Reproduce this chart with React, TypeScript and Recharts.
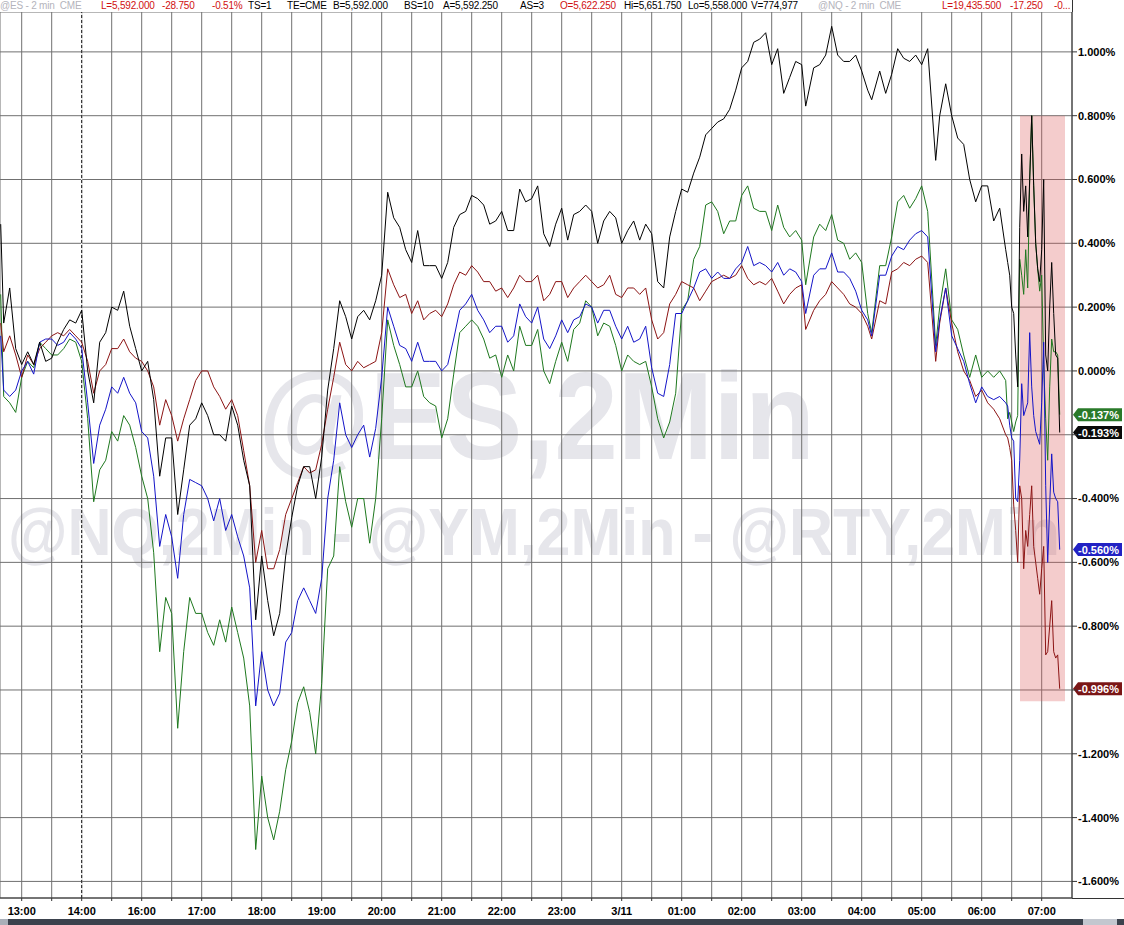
import {
  LineChart,
  Line,
  XAxis,
  YAxis,
  CartesianGrid,
  ReferenceLine,
  ReferenceArea,
} from "recharts";

// session minutes from 13:00 (the 15:00-16:00 break is not on the axis)
const minutes = [
  -21, -18, -12, -6,
  0, 6, 12, 18, 24, 30, 36, 42, 48, 54,
  60, 66, 72, 78, 84, 90, 96, 102, 108, 114,
  120, 126, 132, 138, 144, 150, 156, 162, 168, 174,
  180, 186, 192, 198, 204, 210, 216, 222, 228, 234,
  240, 246, 252, 258, 264, 270, 276, 282, 288, 294,
  300, 306, 312, 318, 324, 330, 336, 342, 348, 354,
  360, 366, 372, 378, 384, 390, 396, 402, 408, 414,
  420, 426, 432, 438, 444, 450, 456, 462, 468, 474,
  480, 486, 492, 498, 504, 510, 516, 522, 528, 534,
  540, 546, 552, 558, 564, 570, 576, 582, 588, 594,
  600, 606, 612, 618, 624, 630, 636, 642, 648, 654,
  660, 666, 672, 678, 684, 690, 696, 702, 708, 714,
  720, 726, 732, 738, 744, 750, 756, 762, 768, 774,
  780, 784, 792, 798, 804, 810, 816, 822, 828, 834,
  840, 846, 850, 858, 864, 870, 876, 882, 888, 894,
  900, 906, 914, 918, 924, 930, 936, 942, 948, 954,
  960, 966, 972, 978, 984,
  986, 988, 990, 992, 994, 996, 998, 1000, 1002, 1004,
  1006, 1008, 1010, 1012, 1014, 1016, 1018, 1020, 1022, 1024,
  1026, 1028, 1030, 1032, 1034, 1036, 1038,
];

// % change, black line
const esPct = [
  0.46,
  0.15, 0.26, 0.07, 0.02, 0.06, 0.02, 0.09, 0.03, 0.04, 0.09,
  0.13, 0.16, 0.15, 0.19, 0.0, -0.1, 0.09, 0.12, 0.2, 0.19,
  0.25, 0.14, 0.07, 0.0, 0.03, -0.09, -0.33, -0.21, -0.21, -0.45,
  -0.31, -0.17, -0.15, -0.1, -0.14, -0.2, -0.2, -0.22, -0.11, -0.17,
  -0.28, -0.36, -0.78, -0.58, -0.72, -0.83, -0.76, -0.58, -0.46, -0.36,
  -0.3, -0.3, -0.4, -0.27, -0.06, 0.07, 0.22, 0.17, 0.1, 0.17,
  0.19, 0.16, 0.22, 0.3, 0.56, 0.48, 0.45, 0.38, 0.34, 0.44,
  0.33, 0.33, 0.33, 0.29, 0.34, 0.45, 0.49, 0.5, 0.55, 0.54,
  0.52, 0.46, 0.47, 0.5, 0.44, 0.44, 0.57, 0.53, 0.54, 0.58,
  0.43, 0.39, 0.46, 0.51, 0.41, 0.49, 0.5, 0.52, 0.5, 0.4,
  0.47, 0.5, 0.48, 0.4, 0.44, 0.47, 0.41, 0.46, 0.43, 0.28,
  0.26, 0.42, 0.5, 0.57, 0.56, 0.62, 0.67, 0.74, 0.76, 0.78,
  0.79, 0.82, 0.88, 0.95, 0.97, 1.03, 1.04, 1.06, 0.96, 1.01,
  0.87, 0.92, 0.97, 0.96, 0.83, 0.95, 0.96, 0.99, 1.08, 0.99,
  0.97, 0.97, 0.99, 0.94, 0.88, 0.85, 0.94, 0.87, 0.93, 1.01,
  0.98, 0.97, 0.99, 0.96, 1.01, 0.66, 0.8, 0.9, 0.8, 0.73,
  0.71, 0.6, 0.53, 0.58, 0.58, 0.47, 0.51, 0.38,
  0.34, 0.3, 0.2, 0.18, 0.05, -0.05, 0.45, 0.68, 0.5, 0.58,
  0.42, 0.6, 0.8, 0.58, 0.4, 0.32, 0.28, 0.38, 0.6, 0.05,
  0.0, 0.2, 0.34, 0.18, 0.05, 0.04, -0.193,
];

// % change, dark red line
const rtyPct = [
  0.15,
  0.06, 0.11, 0.05, -0.02, 0.05, 0.02, 0.07, 0.09, 0.11, 0.12,
  0.11, 0.13, 0.11, 0.09, 0.03, -0.07, 0.0, 0.02, 0.07, 0.07,
  0.1, 0.06, 0.04, 0.03, 0.0, -0.05, -0.17, -0.09, -0.14, -0.22,
  -0.15, -0.09, -0.03, 0.0, 0.0, -0.05, -0.08, -0.12, -0.09, -0.14,
  -0.25, -0.36, -0.6, -0.5, -0.62, -0.62, -0.56, -0.45, -0.4, -0.35,
  -0.3, -0.32, -0.31, -0.23, -0.12, -0.02, 0.09, 0.02, 0.0, 0.03,
  0.01, 0.02, 0.03, 0.12, 0.32, 0.27, 0.23, 0.24, 0.18, 0.22,
  0.16, 0.18, 0.19, 0.17, 0.21, 0.27, 0.31, 0.3, 0.33, 0.31,
  0.28, 0.28, 0.25, 0.26, 0.23, 0.26, 0.3, 0.28, 0.28, 0.3,
  0.22, 0.24, 0.28, 0.28, 0.23, 0.26, 0.28, 0.3, 0.28, 0.26,
  0.27, 0.3, 0.24, 0.23, 0.26, 0.26, 0.24, 0.26, 0.16, 0.1,
  0.12, 0.21, 0.24, 0.28, 0.27, 0.26, 0.22, 0.25, 0.28, 0.29,
  0.3, 0.29, 0.3, 0.33, 0.29, 0.27, 0.28, 0.27, 0.29, 0.25,
  0.21, 0.24, 0.26, 0.27, 0.13, 0.19, 0.22, 0.24, 0.28, 0.26,
  0.24, 0.21, 0.2, 0.18, 0.14, 0.1, 0.22, 0.21, 0.31, 0.32,
  0.34, 0.33, 0.35, 0.36, 0.34, 0.03, 0.15, 0.26, 0.15, 0.06,
  0.0, -0.03, -0.08, -0.06, -0.1, -0.12, -0.15, -0.2,
  -0.21, -0.24, -0.28, -0.42, -0.5, -0.6, -0.36, -0.4, -0.62, -0.5,
  -0.55, -0.45, -0.36, -0.55, -0.6, -0.65, -0.7, -0.62, -0.55, -0.89,
  -0.88, -0.8, -0.72, -0.88, -0.9, -0.89, -0.996,
];

// % change, blue line
const nqPct = [
  0.11,
  -0.06, -0.08, -0.06, 0.0, 0.03, -0.01, 0.09, 0.1, 0.1, 0.08,
  0.09, 0.12, 0.1, 0.07, -0.1, -0.29, -0.17, -0.12, -0.05, -0.07,
  -0.02, -0.07, -0.1, -0.19, -0.21, -0.33, -0.55, -0.45, -0.52, -0.65,
  -0.45, -0.34, -0.35, -0.36, -0.4, -0.47, -0.4, -0.5, -0.45, -0.52,
  -0.58, -0.68, -1.05, -0.88, -1.0, -1.05, -1.01, -0.85, -0.82, -0.72,
  -0.68, -0.72, -0.76, -0.65, -0.4, -0.28, -0.1, -0.2, -0.24, -0.2,
  -0.17, -0.27, -0.18, -0.02, 0.2, 0.14, 0.08, 0.07, 0.03, 0.09,
  0.03, 0.03, 0.03, 0.0, 0.02, 0.1, 0.19, 0.21, 0.24, 0.19,
  0.16, 0.12, 0.14, 0.14, 0.09, 0.11, 0.21, 0.17, 0.15, 0.2,
  0.1, 0.07, 0.11, 0.16, 0.12, 0.16, 0.17, 0.21, 0.2, 0.15,
  0.19, 0.19, 0.14, 0.1, 0.14, 0.09, 0.1, 0.14, 0.01, -0.07,
  -0.08, 0.02, 0.18, 0.18, 0.22, 0.26, 0.31, 0.32, 0.29, 0.31,
  0.29, 0.29, 0.32, 0.34, 0.39, 0.33, 0.34, 0.33, 0.31, 0.34,
  0.3, 0.32, 0.31, 0.28, 0.18, 0.3, 0.32, 0.32, 0.37, 0.31,
  0.31, 0.29, 0.25, 0.19, 0.16, 0.11, 0.3, 0.3, 0.36, 0.39,
  0.38, 0.41, 0.43, 0.44, 0.42, 0.06, 0.16, 0.26, 0.11, 0.07,
  0.03, -0.04, -0.1, -0.05, -0.08, -0.09, -0.08, -0.1,
  -0.11, -0.17, -0.21, -0.22, -0.4, -0.41, -0.28, -0.04, -0.14, -0.12,
  -0.1, 0.12, -0.05, -0.14, -0.19, -0.21, -0.23, -0.1, 0.09, -0.36,
  -0.6, -0.42, -0.26, -0.38, -0.4, -0.41, -0.56,
];

// % change, green line
const ymPct = [
  0.24,
  -0.08, -0.1, -0.13, -0.02, 0.03, 0.01, 0.09, 0.07, 0.05, 0.05,
  0.07, 0.1, 0.09, 0.03, -0.15, -0.41, -0.31, -0.28, -0.19, -0.22,
  -0.14, -0.17, -0.24, -0.33, -0.4, -0.57, -0.88, -0.71, -0.76, -1.12,
  -0.88, -0.71, -0.76, -0.76, -0.82, -0.86, -0.78, -0.85, -0.74, -0.82,
  -0.9, -1.05, -1.5, -1.27, -1.4, -1.47, -1.38, -1.25, -1.16, -1.04,
  -0.99, -1.07, -1.2, -0.98, -0.62, -0.58, -0.3, -0.41, -0.49, -0.4,
  -0.4, -0.54, -0.4, -0.15, 0.16, 0.08, 0.02, -0.05, -0.05, 0.0,
  -0.08, -0.1, -0.11, -0.21, -0.15, -0.01, 0.12, 0.14, 0.16, 0.14,
  0.1, 0.04, 0.05, -0.02, 0.05, 0.0, 0.14, 0.08, 0.08, 0.13,
  0.0, -0.04, 0.03, 0.09, 0.03, 0.13, 0.15, 0.22, 0.2, 0.11,
  0.15, 0.14, 0.08, 0.0, 0.05, 0.03, 0.02, 0.03, -0.05, -0.15,
  -0.21, -0.16, -0.07, 0.19, 0.22, 0.35, 0.39, 0.52, 0.53, 0.5,
  0.43, 0.47, 0.47, 0.55, 0.58, 0.51, 0.5, 0.5, 0.44, 0.52,
  0.45, 0.42, 0.44, 0.41, 0.27, 0.42, 0.46, 0.44, 0.49, 0.41,
  0.4, 0.35, 0.37, 0.34, 0.18, 0.12, 0.33, 0.33, 0.42, 0.53,
  0.55, 0.51, 0.54, 0.58, 0.5, 0.08, 0.2, 0.32, 0.16, 0.13,
  0.05, -0.02, 0.05, -0.02, 0.0, -0.02, 0.0, -0.03,
  -0.15, -0.13, -0.16, -0.19, -0.16, -0.14, 0.35, 0.3, 0.24, 0.38,
  0.26, 0.6, 0.8, 0.58, 0.4, 0.32, 0.25, 0.3, 0.02, -0.15,
  -0.28, -0.05, 0.1, 0.06, 0.06, 0.05, -0.137,
];

const gridMinutes = [
  0, 30, 60, 90, 120, 150, 180, 210, 240, 270, 300, 330, 360, 390, 420, 450, 480, 510,
  540, 570, 600, 630, 660, 690, 720, 750, 780, 810, 840, 870, 900, 930, 960, 990, 1020,
];
const labelMinutes = [0, 60, 120, 180, 240, 300, 360, 420, 480, 540, 600, 660, 720, 780, 840, 900, 960, 1020];
const labelTexts = [
  "13:00", "14:00", "16:00", "17:00", "18:00", "19:00", "20:00", "21:00", "22:00",
  "23:00", "3/11", "01:00", "02:00", "03:00", "04:00", "05:00", "06:00", "07:00",
];
const pctTicks = [-1.6, -1.4, -1.2, -1.0, -0.8, -0.6, -0.4, -0.2, 0, 0.2, 0.4, 0.6, 0.8, 1.0];

const data = minutes.map((t, i) => ({
  t,
  es: esPct[i],
  nq: nqPct[i],
  ym: ymPct[i],
  rty: rtyPct[i],
}));

const FONT = "Arial, 'Liberation Sans', sans-serif";
const last = (arr: number[]) => arr[arr.length - 1];

const Badge = (props: any) => {
  const { viewBox, text, fill } = props;
  if (!viewBox) return null;
  const x = viewBox.x + viewBox.width;
  const y = viewBox.y;
  return (
    <g>
      <path
        d={`M${x + 1},${y} L${x + 6},${y - 6.5} H${x + 50} V${y + 6.5} H${x + 6} Z`}
        fill={fill}
      />
      <text x={x + 6} y={y + 4} fill="#fff" fontSize={11} fontWeight="bold" fontFamily={FONT}>
        {text}
      </text>
    </g>
  );
};

const badges = [
  { value: last(ymPct), fill: "#2a7a2a" },
  { value: last(esPct), fill: "#0a0a0a" },
  { value: last(nqPct), fill: "#2222c4" },
  { value: last(rtyPct), fill: "#7a1616" },
];

// tick labels that sit under a last-value badge are covered in the original
const coveredByBadge = (v: number) => badges.some((b) => Math.abs(b.value - v) < 0.02);

const Header = () => {
  const parts: [number, string, string][] = [
    [0, "#b4b4bc", "@ES - 2 min  CME"],
    [101, "#d01010", "L=5,592.000"],
    [162, "#d01010", "-28.750"],
    [212, "#d01010", "-0.51%"],
    [248, "#000", "TS=1"],
    [287, "#000", "TE=CME"],
    [333, "#000", "B=5,592.000"],
    [404, "#000", "BS=10"],
    [443, "#000", "A=5,592.250"],
    [520, "#000", "AS=3"],
    [560, "#d01010", "O=5,622.250"],
    [624, "#000", "Hi=5,651.750"],
    [688, "#000", "Lo=5,558.000"],
    [751, "#000", "V=774,977"],
    [818, "#b4b4bc", "@NQ - 2 min  CME"],
    [942, "#d01010", "L=19,435.500"],
    [1010, "#d01010", "-17.250"],
    [1054, "#d01010", "-0..."],
  ];
  return (
    <div style={{ position: "absolute", left: 0, top: 0, width: 1072, height: 12, background: "#fff" }}>
      {parts.map(([x, c, s]) => (
        <span
          key={x}
          style={{
            position: "absolute",
            left: x,
            top: -1,
            color: c,
            fontSize: 10,
            fontFamily: FONT,
            whiteSpace: "pre",
            lineHeight: "13px",
            letterSpacing: "-0.2px",
          }}
        >
          {s}
        </span>
      ))}
    </div>
  );
};

const App = () => {
  return (
    <div style={{ position: "absolute", left: 0, top: 0, width: 1124, height: 925, background: "#fff", overflow: "hidden" }}>
      <svg width={1124} height={925} style={{ position: "absolute", left: 0, top: 0 }}>
        <text x={258} y={459} fontSize={124} fontWeight="bold" fill="#e6e6eb" fontFamily={FONT} textLength={557} lengthAdjust="spacingAndGlyphs">
          @ES,2Min
        </text>
        <text x={8} y={555} fontSize={66} fontWeight="bold" fill="#e6e6eb" fontFamily={FONT} textLength={1052} lengthAdjust="spacingAndGlyphs">
          @NQ,2Min - @YM,2Min - @RTY,2Min
        </text>
      </svg>
      <div style={{ position: "absolute", left: 0, top: 0 }}>
        <LineChart width={1124} height={925} data={data} margin={{ top: 12, right: 0, bottom: 0, left: 0 }}>
          <CartesianGrid stroke="#707070" />
          <XAxis
            type="number"
            dataKey="t"
            domain={[-21.7, 1050.3]}
            ticks={gridMinutes}
            interval={0}
            allowDataOverflow
            height={27}
            tickSize={3}
            tickMargin={6}
            stroke="#333"
            tick={{ fill: "#000", fontSize: 11, fontWeight: "bold", fontFamily: FONT }}
            tickFormatter={(v: number) => {
              const i = labelMinutes.indexOf(v);
              return i >= 0 ? labelTexts[i] : "";
            }}
          />
          <YAxis
            orientation="right"
            type="number"
            domain={[-1.652, 1.125]}
            ticks={pctTicks}
            interval={0}
            allowDataOverflow
            width={52}
            tickSize={5}
            tickMargin={1}
            stroke="#333"
            tick={{ fill: "#000", fontSize: 11, fontWeight: "bold", fontFamily: FONT }}
            tickFormatter={(v: number) => (coveredByBadge(v) ? "" : `${v.toFixed(3)}%`)}
          />
          <ReferenceLine x={60} stroke="#fff" />
          <ReferenceLine x={60} stroke="#111" strokeDasharray="3 2" />
          <Line type="linear" dataKey="ym" stroke="#1e781e" strokeWidth={1} dot={false} activeDot={false} isAnimationActive={false} />
          <Line type="linear" dataKey="rty" stroke="#8c1414" strokeWidth={1} dot={false} activeDot={false} isAnimationActive={false} />
          <Line type="linear" dataKey="nq" stroke="#1414c8" strokeWidth={1} dot={false} activeDot={false} isAnimationActive={false} />
          <Line type="linear" dataKey="es" stroke="#000" strokeWidth={1} dot={false} activeDot={false} isAnimationActive={false} />
          <ReferenceArea x1={998.3} x2={1043.3} y1={-1.035} y2={0.8} fill="#dc5555" fillOpacity={0.3} stroke="none" />
          {badges.map((b) => (
            <ReferenceLine
              key={b.fill}
              y={b.value}
              stroke="none"
              label={<Badge text={`${b.value.toFixed(3)}%`} fill={b.fill} />}
            />
          ))}
        </LineChart>
      </div>
      <Header />
      <div style={{ position: "absolute", left: 1072, top: 0, width: 1, height: 12, background: "#333" }} />
      <div style={{ position: "absolute", left: 1072, top: 898, width: 52, height: 1, background: "#333" }} />
      <div style={{ position: "absolute", left: 0, top: 919, width: 1124, height: 6, background: "#3b424d" }} />
      <div style={{ position: "absolute", left: 0, top: 919, width: 8, height: 6, background: "#a9afb8" }} />
      <div style={{ position: "absolute", left: 1083, top: 919, width: 34, height: 6, background: "#c3c7cf" }} />
    </div>
  );
};

export default App;
